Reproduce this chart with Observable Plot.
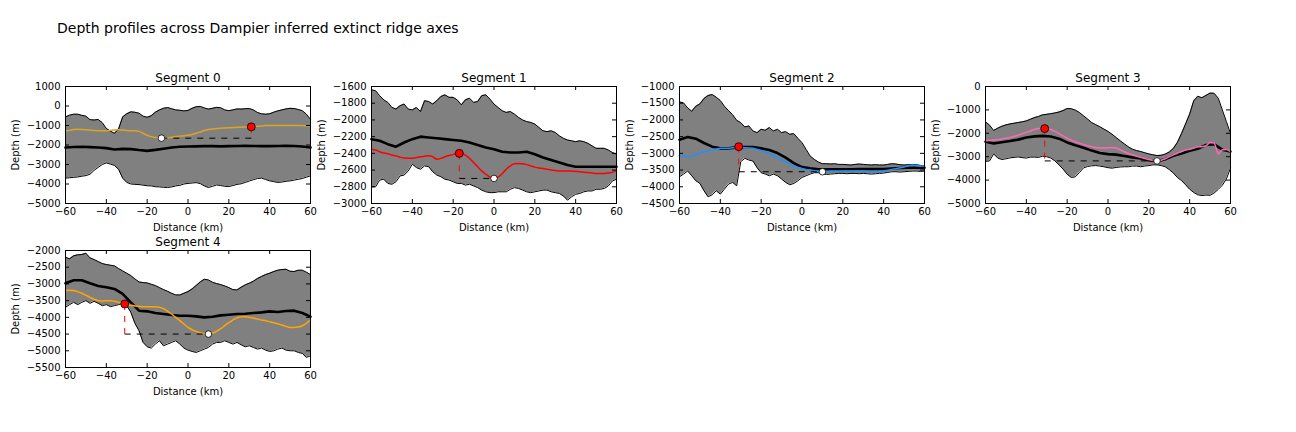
<!DOCTYPE html>
<html><head><meta charset="utf-8">
<script src="https://cdn.jsdelivr.net/npm/d3@7"></script>
<script src="https://cdn.jsdelivr.net/npm/@observablehq/plot@0.6"></script>
<style>
body{margin:0;background:#fff;font-family:"DejaVu Sans",sans-serif;}
#wrap{position:relative;width:1296px;height:432px;overflow:hidden;background:#fff;}
#title{position:absolute;left:57px;top:19px;font-size:14px;line-height:18px;white-space:nowrap;color:#000;}
.panel{position:absolute;}
</style></head><body>
<div id="wrap"><div id="title">Depth profiles across Dampier inferred extinct ridge axes</div></div>
<script>
// ---------- data ----------
const segmentNames = ["Segment 0", "Segment 1", "Segment 2", "Segment 3", "Segment 4"];
const distFine = d3.range(-60, 61, 2);    // km, envelope & profile sampling
const distCoarse = d3.range(-60, 61, 4);  // km, mean profile sampling
const xTickValues = [-60, -40, -20, 0, 20, 40, 60];

const upper0 = [-560,-470,-420,-420,-480,-520,-700,-720,-690,-850,-1150,-1290,-1400,-1180,-560,-400,-300,-320,-370,-520,-580,-500,-320,-200,-120,-80,-140,-200,-220,-250,-230,-120,-40,-20,-100,-160,-120,-70,-90,-200,-240,-200,-150,-160,-140,-130,-200,-330,-400,-420,-400,-320,-250,-200,-150,-120,-130,-180,-240,-420,-680];
const lower0 = [-3700,-3680,-3660,-3640,-3600,-3570,-3500,-3300,-3150,-3000,-2920,-2980,-3050,-3250,-3700,-3920,-4000,-4020,-4030,-4060,-4090,-4100,-4140,-4150,-4170,-4180,-4150,-4100,-4070,-4000,-3970,-3950,-3930,-3980,-4100,-4180,-4120,-4050,-4080,-4120,-4130,-4080,-4020,-3990,-3920,-3850,-3780,-3720,-3700,-3770,-3840,-3880,-3920,-3900,-3860,-3840,-3800,-3760,-3720,-3650,-3580];
const mean0 = [-2130,-2100,-2090,-2110,-2130,-2160,-2230,-2200,-2210,-2260,-2300,-2250,-2190,-2130,-2090,-2080,-2070,-2060,-2060,-2070,-2060,-2050,-2040,-2050,-2060,-2060,-2050,-2040,-2050,-2080,-2130];
const profile0 = [-1290,-1250,-1210,-1195,-1200,-1215,-1235,-1255,-1265,-1270,-1265,-1250,-1225,-1220,-1235,-1260,-1270,-1265,-1300,-1400,-1500,-1570,-1620,-1645,-1650,-1630,-1600,-1570,-1545,-1520,-1500,-1460,-1400,-1330,-1260,-1210,-1175,-1150,-1135,-1125,-1115,-1105,-1095,-1085,-1078,-1072,-1060,-1040,-1020,-1005,-1000,-1000,-1000,-1000,-1000,-1000,-1000,-1000,-1005,-1010,-1020];

const upper1 = [-1640,-1650,-1710,-1760,-1790,-1850,-1870,-1830,-1810,-1870,-1880,-1850,-1900,-1770,-1780,-1810,-1770,-1720,-1700,-1730,-1730,-1760,-1820,-1760,-1740,-1790,-1780,-1710,-1700,-1750,-1810,-1850,-1890,-1910,-1900,-1930,-1970,-2000,-2020,-2030,-2050,-2090,-2130,-2140,-2130,-2150,-2190,-2220,-2240,-2250,-2260,-2250,-2260,-2280,-2310,-2340,-2340,-2340,-2360,-2390,-2410];
const lower1 = [-2800,-2800,-2720,-2710,-2760,-2770,-2740,-2670,-2660,-2610,-2530,-2570,-2590,-2550,-2560,-2620,-2660,-2680,-2710,-2720,-2740,-2760,-2760,-2780,-2770,-2790,-2810,-2840,-2860,-2870,-2870,-2860,-2860,-2860,-2830,-2810,-2820,-2840,-2860,-2870,-2860,-2850,-2840,-2840,-2860,-2870,-2880,-2910,-2960,-2920,-2890,-2880,-2860,-2850,-2850,-2830,-2830,-2820,-2790,-2730,-2710];
const mean1 = [-2230,-2250,-2290,-2320,-2270,-2230,-2200,-2210,-2220,-2230,-2240,-2250,-2270,-2300,-2330,-2350,-2380,-2390,-2390,-2380,-2410,-2450,-2480,-2510,-2540,-2560,-2560,-2560,-2560,-2560,-2560];
const profile1 = [-2350,-2360,-2380,-2395,-2405,-2420,-2430,-2445,-2455,-2460,-2460,-2450,-2440,-2435,-2430,-2440,-2470,-2460,-2440,-2425,-2415,-2400,-2400,-2420,-2460,-2510,-2560,-2610,-2650,-2685,-2700,-2685,-2645,-2590,-2550,-2525,-2520,-2525,-2535,-2550,-2565,-2575,-2580,-2590,-2600,-2605,-2610,-2610,-2610,-2610,-2615,-2620,-2625,-2630,-2635,-2640,-2640,-2640,-2635,-2625,-2610];

const upper2 = [-1460,-1490,-1640,-1740,-1590,-1520,-1360,-1270,-1240,-1320,-1420,-1590,-1720,-1840,-2010,-2080,-2210,-2180,-2330,-2380,-2280,-2310,-2230,-2330,-2280,-2380,-2350,-2430,-2410,-2550,-2680,-2880,-3080,-3180,-3260,-3310,-3310,-3320,-3310,-3330,-3330,-3340,-3350,-3330,-3320,-3330,-3340,-3350,-3340,-3350,-3350,-3330,-3310,-3320,-3340,-3350,-3340,-3330,-3340,-3360,-3380];
const lower2 = [-3700,-3620,-3530,-3670,-3820,-3900,-4120,-4300,-4240,-4120,-4220,-4070,-3920,-3870,-3970,-3250,-3150,-3200,-3230,-3430,-3580,-3620,-3670,-3620,-3670,-3770,-3870,-3940,-3900,-3820,-3720,-3670,-3620,-3580,-3580,-3620,-3630,-3620,-3610,-3600,-3600,-3610,-3600,-3600,-3610,-3600,-3610,-3620,-3610,-3600,-3590,-3570,-3550,-3550,-3560,-3550,-3540,-3530,-3530,-3540,-3530];
const mean2 = [-2590,-2510,-2560,-2690,-2800,-2850,-2850,-2820,-2810,-2810,-2850,-2900,-2990,-3130,-3290,-3410,-3450,-3480,-3480,-3480,-3480,-3475,-3470,-3470,-3470,-3470,-3455,-3440,-3430,-3430,-3430];
const profile2 = [-3060,-3080,-3100,-3090,-3030,-2990,-2950,-2920,-2890,-2870,-2850,-2850,-2845,-2835,-2825,-2820,-2830,-2840,-2850,-2880,-2910,-2960,-3010,-3070,-3130,-3190,-3250,-3320,-3380,-3420,-3450,-3480,-3500,-3520,-3530,-3540,-3535,-3530,-3530,-3530,-3530,-3530,-3530,-3530,-3530,-3530,-3540,-3550,-3545,-3540,-3530,-3505,-3480,-3460,-3430,-3410,-3370,-3350,-3360,-3380,-3370];

const upper3 = [-1510,-1650,-1880,-1780,-1700,-1640,-1600,-1570,-1540,-1510,-1470,-1400,-1330,-1280,-1210,-1190,-1160,-1130,-1090,-1030,-940,-950,-1010,-1110,-1250,-1390,-1540,-1630,-1720,-1820,-1920,-2040,-2180,-2320,-2450,-2580,-2680,-2740,-2780,-2830,-2880,-2920,-2950,-2940,-2890,-2800,-2650,-2390,-2010,-1600,-1180,-610,-420,-480,-380,-280,-290,-500,-1000,-1500,-2010];
const lower3 = [-3200,-3180,-2880,-3060,-3120,-3090,-3050,-3030,-3010,-3040,-3060,-3020,-3020,-3030,-2980,-3000,-3060,-3180,-3350,-3530,-3750,-3890,-3860,-3680,-3480,-3420,-3390,-3380,-3400,-3430,-3470,-3490,-3460,-3440,-3430,-3430,-3400,-3400,-3430,-3400,-3380,-3350,-3350,-3380,-3430,-3550,-3700,-3890,-4020,-4200,-4390,-4530,-4630,-4660,-4640,-4650,-4550,-4400,-4220,-3950,-3490];
const mean3 = [-2360,-2430,-2380,-2330,-2270,-2180,-2130,-2110,-2140,-2230,-2390,-2510,-2620,-2740,-2840,-2890,-2910,-2970,-3030,-3080,-3150,-3200,-3110,-2960,-2860,-2750,-2660,-2500,-2470,-2700,-2780];
const profile3 = [-2320,-2310,-2290,-2270,-2240,-2210,-2180,-2130,-2080,-2020,-1960,-1900,-1840,-1800,-1790,-1800,-1840,-1920,-2010,-2110,-2210,-2290,-2360,-2420,-2480,-2530,-2570,-2610,-2630,-2630,-2620,-2610,-2630,-2710,-2790,-2860,-2920,-2980,-3030,-3080,-3120,-3160,-3180,-3150,-3090,-3000,-2920,-2850,-2780,-2720,-2680,-2630,-2580,-2570,-2530,-2390,-2420,-2880,-2700,-2690,-2780];

const upper4 = [-2200,-2250,-2160,-2130,-2120,-2080,-2220,-2270,-2330,-2390,-2420,-2440,-2460,-2540,-2610,-2680,-2750,-2850,-2940,-2960,-2970,-3010,-3050,-3110,-3170,-3220,-3280,-3330,-3330,-3280,-3230,-3150,-3050,-2940,-2860,-2880,-2950,-2990,-3020,-3060,-3110,-3170,-3180,-3100,-3030,-2980,-2920,-2840,-2780,-2720,-2680,-2630,-2590,-2570,-2560,-2620,-2630,-2590,-2590,-2650,-2720];
const lower4 = [-3700,-3620,-3550,-3620,-3550,-3500,-3580,-3520,-3580,-3650,-3620,-3680,-3650,-3620,-3580,-3650,-3850,-4180,-4400,-4750,-4880,-4920,-4800,-4700,-4850,-4800,-4750,-4700,-4800,-4920,-4980,-5020,-5050,-5000,-4950,-4900,-4800,-4750,-4750,-4700,-4750,-4800,-4750,-4820,-4880,-4850,-4900,-4950,-4920,-4980,-5020,-5000,-4950,-4920,-4980,-5000,-5000,-5050,-5080,-5200,-5150];
const mean4 = [-2980,-2890,-2890,-2980,-3060,-3100,-3150,-3300,-3550,-3800,-3820,-3870,-3900,-3930,-3950,-3950,-3970,-4000,-3980,-3940,-3920,-3900,-3890,-3870,-3850,-3820,-3840,-3810,-3800,-3870,-3980];
const profile4 = [-3200,-3190,-3200,-3230,-3280,-3340,-3400,-3460,-3500,-3510,-3500,-3505,-3520,-3550,-3580,-3610,-3640,-3660,-3670,-3680,-3680,-3680,-3680,-3700,-3740,-3810,-3900,-4000,-4100,-4200,-4300,-4370,-4420,-4460,-4490,-4500,-4470,-4420,-4340,-4250,-4160,-4080,-4010,-3980,-3980,-4000,-4020,-4050,-4080,-4100,-4130,-4160,-4190,-4230,-4270,-4300,-4300,-4290,-4250,-4180,-4080];

const ridgeX = [31, -17, -31, -31, -31];
const ridgeDepth = [-1070, -2400, -2800, -1800, -3600];
const troughX = [-13, 0, 10, 24, 10];
const troughDepth = [-1650, -2700, -3550, -3180, -4500];

const yDomains = [[-5000, 1000], [-3000, -1600], [-4500, -1000], [-5000, 0], [-5500, -2000]];
const yTickValues = [
  [-5000, -4000, -3000, -2000, -1000, 0, 1000],
  [-3000, -2800, -2600, -2400, -2200, -2000, -1800, -1600],
  [-4500, -4000, -3500, -3000, -2500, -2000, -1500, -1000],
  [-5000, -4000, -3000, -2000, -1000, 0],
  [-5500, -5000, -4500, -4000, -3500, -3000, -2500, -2000]
];

const uppers = [upper0, upper1, upper2, upper3, upper4];
const lowers = [lower0, lower1, lower2, lower3, lower4];
const means = [mean0, mean1, mean2, mean3, mean4];
const profiles = [profile0, profile1, profile2, profile3, profile4];

// ---------- styling / layout ----------
const profileColors = ["#daa520", "#ff0000", "#1e90ff", "#ff69b4", "#ffa500"];
const frameLefts = [65, 371, 679, 985, 65];
const frameTops = [86, 86, 86, 86, 250];
const W = 245, H = 117, ML = 62, MR = 12, MT = 30, MB = 42;
const fmt = d3.format("d");

function panel(k) {
  const rows = distFine.map((x, i) => ({x, hi: uppers[k][i], lo: lowers[k][i], p: profiles[k][i]}));
  const mrows = distCoarse.map((x, i) => ({x, y: means[k][i]}));
  const hseg = [{x1: ridgeX[k], x2: troughX[k], y: troughDepth[k]}];
  const vseg = [{x: ridgeX[k], y1: ridgeDepth[k], y2: troughDepth[k]}];
  const ridge = [{x: ridgeX[k], y: ridgeDepth[k]}];
  const trough = [{x: troughX[k], y: troughDepth[k]}];
  const svg = Plot.plot({
    width: ML + W + MR, height: MT + H + MB,
    marginLeft: ML, marginRight: MR, marginTop: MT, marginBottom: MB,
    style: {fontFamily: "DejaVu Sans", fontSize: "10px", background: "transparent", overflow: "visible", color: "#000"},
    x: {domain: [-60, 60]},
    y: {domain: yDomains[k]},
    marks: [
      Plot.areaY(rows, {x: "x", y1: "lo", y2: "hi", fill: "#808080"}),
      Plot.lineY(rows, {x: "x", y: "hi", stroke: "#000", strokeWidth: 1}),
      Plot.lineY(rows, {x: "x", y: "lo", stroke: "#000", strokeWidth: 1}),
      Plot.lineY(mrows, {x: "x", y: "y", stroke: "#000", strokeWidth: 2.6}),
      Plot.lineY(rows, {x: "x", y: "p", stroke: profileColors[k], strokeWidth: 1.5, curve: "monotone-x"}),
      Plot.link(hseg, {x1: "x1", x2: "x2", y1: "y", y2: "y", stroke: "#000", strokeWidth: 1, strokeDasharray: "6,6"}),
      Plot.link(vseg, {x1: "x", x2: "x", y1: "y1", y2: "y2", stroke: "#ff0000", strokeWidth: 1, strokeDasharray: "6,6"}),
      Plot.dot(ridge, {x: "x", y: "y", r: 4, fill: "#ff0000", stroke: "#000", strokeWidth: 0.8}),
      Plot.dot(trough, {x: "x", y: "y", r: 3.3, fill: "#fff", stroke: "#000", strokeWidth: 0.8}),
      Plot.tickX(xTickValues, {x: d => d, insetTop: H - 4, stroke: "#000"}),
      Plot.tickX(xTickValues, {x: d => d, insetBottom: H - 4, stroke: "#000"}),
      Plot.tickY(yTickValues[k], {y: d => d, insetRight: W - 4, stroke: "#000"}),
      Plot.tickY(yTickValues[k], {y: d => d, insetLeft: W - 4, stroke: "#000"}),
      Plot.frame({stroke: "#000", strokeWidth: 1}),
      Plot.axisX({ticks: xTickValues, tickSize: 0, tickPadding: 4, tickFormat: fmt, label: "Distance (km)", labelAnchor: "center", labelArrow: "none", labelOffset: 27}),
      Plot.axisY({ticks: yTickValues[k], tickSize: 0, tickPadding: 5, tickFormat: fmt, label: "Depth (m)", labelAnchor: "center", labelArrow: "none", labelOffset: 54}),
      Plot.text([segmentNames[k]], {text: d => d, frameAnchor: "top", dy: -13, fontSize: 12})
    ]
  });
  svg.classList.add("panel");
  svg.style.left = (frameLefts[k] - ML) + "px";
  svg.style.top = (frameTops[k] - MT) + "px";
  document.getElementById("wrap").appendChild(svg);
}
for (let k = 0; k < 5; k++) panel(k);
</script>
</body></html>
